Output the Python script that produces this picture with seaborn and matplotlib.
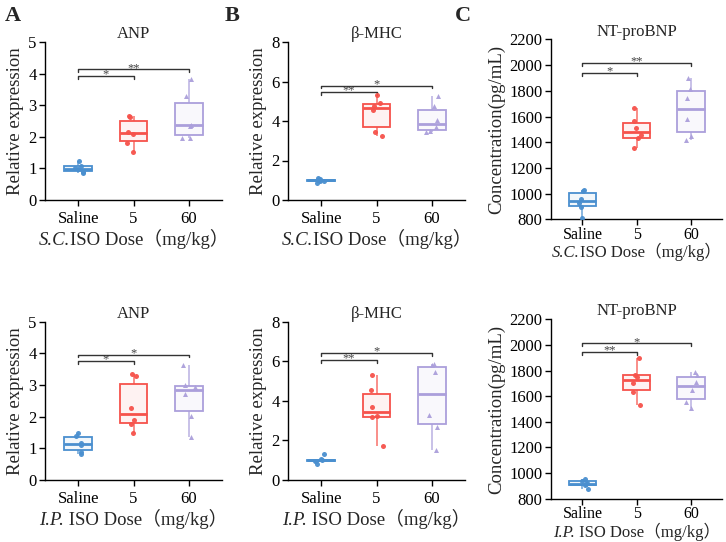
import numpy as np
import pandas as pd
import matplotlib
matplotlib.use("Agg")
import matplotlib.pyplot as plt
import seaborn as sns
from matplotlib.colors import to_rgba
from matplotlib.offsetbox import TextArea, HPacker, AnnotationBbox

# ---------------- data ----------------
groups = ["Saline", "5", "60"]
colors = ["#4a8fcf", "#f6524b", "#ab9fdb"]
markers = ["o", "o", "^"]

# S.C. (top row)
anp_sc_saline = [1.24, 1.08, 1.02, 0.97, 0.90, 0.85]
anp_sc_5 = [2.66, 2.63, 2.15, 2.08, 1.79, 1.51]
anp_sc_60 = [3.82, 3.30, 2.38, 2.34, 1.97, 1.95]

mhc_sc_saline = [1.12, 1.05, 1.00, 0.98, 0.95, 0.85]
mhc_sc_5 = [5.32, 4.91, 4.77, 4.54, 3.44, 3.26]
mhc_sc_60 = [5.28, 4.74, 4.03, 3.70, 3.47, 3.42]

bnp_sc_saline = [1025, 1020, 955, 930, 893, 812]
bnp_sc_5 = [1666, 1567, 1510, 1454, 1430, 1355]
bnp_sc_60 = [1900, 1814, 1746, 1578, 1448, 1417]

# I.P. (bottom row)
anp_ip_saline = [1.47, 1.40, 1.18, 1.10, 0.88, 0.82]
anp_ip_5 = [3.34, 3.28, 2.27, 1.91, 1.78, 1.49]
anp_ip_60 = [3.64, 2.99, 2.94, 2.72, 2.01, 1.36]

mhc_ip_saline = [1.30, 1.04, 1.00, 0.98, 0.95, 0.80]
mhc_ip_5 = [5.31, 4.53, 3.70, 3.22, 3.18, 1.73]
mhc_ip_60 = [5.86, 5.81, 5.47, 3.27, 2.68, 1.53]

bnp_ip_saline = [950, 940, 925, 912, 905, 876]
bnp_ip_5 = [1901, 1766, 1752, 1701, 1631, 1531]
bnp_ip_60 = [1787, 1766, 1709, 1651, 1553, 1510]

titles = ["ANP", "β-MHC", "NT-proBNP"]
ylabels = ["Relative expression", "Relative expression", "Concentration(pg/mL)"]
yticks_list = [[0, 1, 2, 3, 4, 5], [0, 2, 4, 6, 8], list(range(800, 2201, 200))]
ylims = [(0, 5), (0, 8), (800, 2200)]

sig_sc = [(3.93, 4.13, "*", "**"), (5.48, 5.79, "**", "*"), (1940, 2016, "*", "**")]
sig_ip = [(3.76, 3.96, "*", "*"), (6.07, 6.41, "**", "*"), (1947, 2013, "**", "*")]

# ---------------- style ----------------
sns.set_style("ticks")
plt.rcParams["font.family"] = ["Liberation Serif", "Noto Sans CJK SC"]
plt.rcParams["axes.linewidth"] = 1.0
plt.rcParams["xtick.major.size"] = 4
plt.rcParams["ytick.major.size"] = 4
plt.rcParams["xtick.major.width"] = 1.0
plt.rcParams["ytick.major.width"] = 1.0
plt.rcParams["axes.edgecolor"] = "black"

W, H = 726, 542
fig = plt.figure(figsize=(W / 100, H / 100), dpi=100)

def axrect(left, right, top, bottom):
    return [left / W, 1 - bottom / H, (right - left) / W, (bottom - top) / H]

rects = {
    (0, 0): axrect(45, 222, 42, 200),
    (0, 1): axrect(288, 465, 42, 200),
    (0, 2): axrect(551, 722, 39.5, 219.3),
    (1, 0): axrect(45, 222, 321.7, 480),
    (1, 1): axrect(288, 465, 321.7, 480),
    (1, 2): axrect(551, 722, 319.3, 498.7),
}

data_rows = [
    [[anp_sc_saline, anp_sc_5, anp_sc_60],
     [mhc_sc_saline, mhc_sc_5, mhc_sc_60],
     [bnp_sc_saline, bnp_sc_5, bnp_sc_60]],
    [[anp_ip_saline, anp_ip_5, anp_ip_60],
     [mhc_ip_saline, mhc_ip_5, mhc_ip_60],
     [bnp_ip_saline, bnp_ip_5, bnp_ip_60]],
]
route_labels = ["S.C.", "I.P."]
route_rest = ["ISO Dose（mg/kg）", " ISO Dose（mg/kg）"]
sig_rows = [sig_sc, sig_ip]

np.random.seed(3)
for r in range(2):
    for c in range(3):
        ax = fig.add_axes(rects[(r, c)])
        vals = data_rows[r][c]
        df = pd.DataFrame({
            "group": np.repeat(groups, [len(v) for v in vals]),
            "value": np.concatenate(vals),
        })
        sns.boxplot(data=df, x="group", y="value", hue="group", order=groups,
                    hue_order=groups, palette=colors, width=0.5, showfliers=False,
                    showcaps=False, linewidth=1.3, legend=False, ax=ax)
        for p in ax.patches:
            i = int(round(np.mean(p.get_path().vertices[:, 0])))
            i = min(max(i, 0), 2)
            p.set_facecolor(to_rgba(colors[i], 0.07))
            p.set_edgecolor(colors[i])
            p.set_linewidth(1.3)
        for ln in ax.lines:
            xd = np.asarray(ln.get_xdata(), dtype=float)
            i = int(round(np.mean(xd)))
            i = min(max(i, 0), 2)
            ln.set_color(colors[i])
            if np.ptp(xd) < 1e-9:
                ln.set_alpha(0.7)
                ln.set_linewidth(1.3)
            else:
                ln.set_linewidth(2.0)
        for gi, g in enumerate(groups):
            sns.stripplot(x=[g] * len(vals[gi]), y=vals[gi], order=groups,
                          color=colors[gi], marker=markers[gi], size=3.6,
                          jitter=0.12, alpha=0.95, linewidth=0, ax=ax)

        ylo, yhi = ylims[c]
        ax.set_ylim(ylo, yhi)
        ax.set_yticks(yticks_list[c])
        if c == 2:
            ax.set_xlim(-0.58, 2.57)
        else:
            ax.set_xlim(-0.6, 2.6)
        ax.set_xticks([0, 1, 2])
        ax.set_xticklabels(groups)
        ax.tick_params(axis="y", labelsize=12, pad=2, colors="black")
        ax.tick_params(axis="x", labelsize=11.5 if c == 2 else 12,
                       pad=1.2 if c == 2 else 4, colors="black")
        ax.set_xlabel("")
        ax.set_ylabel(ylabels[c], fontsize=13.5, labelpad=3)
        ax.set_title(titles[c], fontsize=12, pad=0.5 if c == 2 else 1.5)
        sns.despine(ax=ax)

        # significance brackets
        y1, y2, s1, s2 = sig_rows[r][c]
        h = (yhi - ylo) * 0.018
        ax.plot([0, 0, 1, 1], [y1 - h, y1, y1, y1 - h], color="#333333", lw=1.0,
                clip_on=False)
        ax.plot([0, 0, 2, 2], [y2 - h, y2, y2, y2 - h], color="#333333", lw=1.0,
                clip_on=False)
        ax.annotate(s1, (0.5, y1), xytext=(0, 1), textcoords="offset points",
                    ha="center", va="center", fontsize=9, color="#444444")
        ax.annotate(s2, (1.0, y2), xytext=(0, 1), textcoords="offset points",
                    ha="center", va="center", fontsize=9, color="#444444")

        # x label: italic route + rest
        fam = ["Liberation Serif", "Noto Sans CJK SC"]
        fs = 12 if c == 2 else 13.5
        ta1 = TextArea(route_labels[r], textprops=dict(family=fam, fontsize=fs,
                                                       fontstyle="italic"))
        ta2 = TextArea(route_rest[r], textprops=dict(family=fam, fontsize=fs))
        pack = HPacker(children=[ta1, ta2], align="baseline", pad=0, sep=0)
        off = 33 if c == 2 else 39
        ab = AnnotationBbox(pack, (0.5, 0), xycoords="axes fraction",
                            xybox=(0, -off * 0.72), boxcoords="offset points",
                            box_alignment=(0.5, 0.5), frameon=False, pad=0)
        ax.add_artist(ab)

for letter, x in [("A", 5), ("B", 225), ("C", 455)]:
    fig.text(x / W, 1 - 6 / H, letter, fontsize=16, fontweight="bold",
             ha="left", va="top")

fig.savefig("out.png", dpi=100)
